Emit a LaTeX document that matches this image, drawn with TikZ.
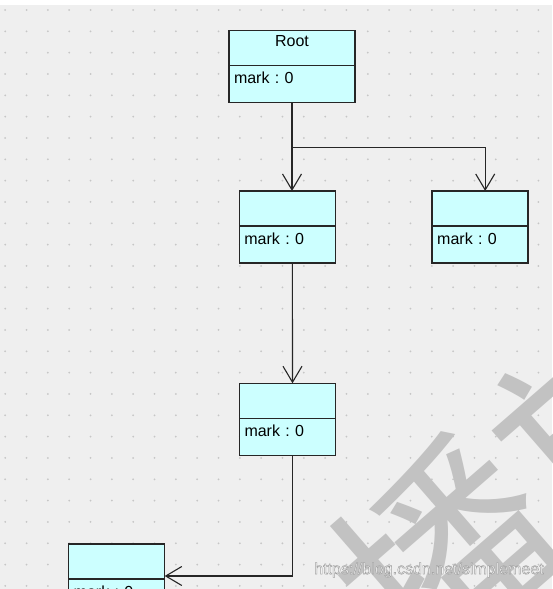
\documentclass[tikz,border=0pt]{standalone}
\usepackage{fontspec}
\setmainfont{Liberation Sans}
\newfontfamily\cjkfont{Noto Sans CJK SC}
\usetikzlibrary{positioning}
\usetikzlibrary{arrows.meta}
\frenchspacing

\definecolor{canvasgray}{HTML}{EFEFEF}
\definecolor{dotgray}{HTML}{C6C6C6}
\definecolor{classcyan}{HTML}{CCFFFF}
\definecolor{edgegray}{HTML}{262626}
\definecolor{markgray}{HTML}{C2C2C2}

\begin{document}
\begin{tikzpicture}[x=1pt, y=-1pt,
	classname/.style={draw=edgegray, line width=1.5pt, fill=classcyan,
		minimum width=96pt, minimum height=35pt, inner sep=0pt, outer sep=0pt,
		font=\fontsize{16}{18}\selectfont, text height=11.5pt, text depth=14pt},
	classfield/.style={draw=edgegray, line width=1.5pt, fill=classcyan,
		minimum height=37pt, text width=86pt, inner xsep=5pt, inner ysep=0pt,
		outer sep=0pt, align=left, below=0pt of #1,
		font=\fontsize{16}{18}\selectfont, text height=11.5pt, text depth=12.5pt},
	assoc/.style={draw=black!85, line width=1.1pt,
		-{Straight Barb[length=16pt, width=19pt, line width=1.1pt]}}]
	\useasboundingbox (0,0) rectangle (552,589);
	\clip (0,0) rectangle (552,589);
	% canvas with dot grid
	\fill[canvasgray] (0,0) rectangle (552,589);
	\fill[white] (0,0) rectangle (552,5);
	\foreach \i in {0,...,25}
		\foreach \j in {0,...,27}
			\fill[dotgray] (5.2+21.33*\i, 10+21.33*\j) circle (1);

	% classes
	\node[classname, minimum width=126pt] (root) at (292,48) {Root};
	\node[classfield=root, text width=116pt] (root-f) {mark : 0};

	\node[classname] (b1) at (287.4,208.5) {};
	\node[classfield=b1] (b1-f) {mark : 0};

	\node[classname] (b2) at (480.2,208.5) {};
	\node[classfield=b2] (b2-f) {mark : 0};

	\node[classname] (b3) at (287.5,400.8) {};
	\node[classfield=b3] (b3-f) {mark : 0};

	\node[classname] (b4) at (116.7,561.5) {};
	\node[classfield=b4] (b4-f) {mark : 0};

	% associations
	\coordinate (fork) at ([yshift=-45pt]root-f.south);
	\draw[assoc] (root-f.south) -- (root-f.south |- b1.north);
	\draw[assoc] (fork) -| ([xshift=5pt]b2.north);
	\draw[assoc] ([xshift=5pt]b1-f.south) -- ([xshift=5pt]b3.north);
	\draw[assoc] ([xshift=5pt]b3-f.south) |- ([yshift=-14.5pt]b4.east);

	% watermark
	\node[rotate=41, text=markgray, inner sep=0pt,
		font=\cjkfont\fontsize{210}{210}\selectfont] (wm) at (526,484) {播放};
	\node[text=white, font=\fontsize{16}{18}\selectfont] (url) at (429,570)
		{\special{pdf:literal direct 2 Tr 0.62 G 0.5 w}https://blog.csdn.net/simplemeet\special{pdf:literal direct 0 Tr}};
\end{tikzpicture}
\end{document}
